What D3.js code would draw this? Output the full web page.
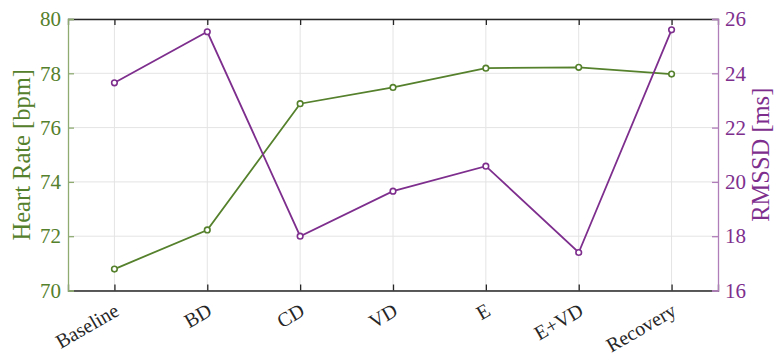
<!DOCTYPE html>
<html>
<head>
<meta charset="utf-8">
<script src="https://cdn.jsdelivr.net/npm/d3@7"></script>
<style>
  body { margin: 0; background: #fff; }
</style>
</head>
<body>
<svg id="chart" width="776" height="356"></svg>
<script>
// Conditions and per-condition means
const conditions = ["Baseline", "BD", "CD", "VD", "E", "E+VD", "Recovery"];
const heartRate = [70.79, 72.23, 76.88, 77.48, 78.19, 78.22, 77.97];
const rmssd = [23.65, 25.53, 18.00, 19.66, 20.58, 17.40, 25.60];
const hrTicks = [70, 72, 74, 76, 78, 80];
const rmssdTicks = [16, 18, 20, 22, 24, 26];

const green = "#55802c";
const purple = "#7e2f8e";
const serif = "'Liberation Serif', 'Times New Roman', serif";

const svg = d3.select("#chart");
const margin = { left: 68, right: 58, top: 19, bottom: 65.5 };
const W = 776, H = 356;
const x0 = margin.left, x1 = W - margin.right;
const y0 = H - margin.bottom, y1 = margin.top;

const x = d3.scaleLinear().domain([0.5, conditions.length + 0.5]).range([x0, x1]);
const yL = d3.scaleLinear().domain([70, 80]).range([y0, y1]);
const yR = d3.scaleLinear().domain([16, 26]).range([y0, y1]);

// grid
const grid = svg.append("g");
grid.selectAll("line.v").data(conditions).enter().append("line")
  .attr("x1", (d, i) => x(i + 1)).attr("x2", (d, i) => x(i + 1))
  .attr("y1", y1).attr("y2", y0)
  .attr("stroke", "#e4e4e4").attr("stroke-width", 1);
grid.selectAll("line.h").data(hrTicks).enter().append("line")
  .attr("x1", x0).attr("x2", x1)
  .attr("y1", d => yL(d)).attr("y2", d => yL(d))
  .attr("stroke", "#e4e4e4").attr("stroke-width", 1);

// axes
const tickLen = 6;
const bottomAxis = d3.axisBottom(x).tickValues(d3.range(1, conditions.length + 1))
  .tickSize(-tickLen).tickFormat("");
const topAxis = d3.axisTop(x).tickValues(d3.range(1, conditions.length + 1))
  .tickSize(-tickLen).tickFormat("");
const leftAxis = d3.axisLeft(yL).tickValues(hrTicks).tickSize(-tickLen).tickPadding(7);
const rightAxis = d3.axisRight(yR).tickValues(rmssdTicks).tickSize(-tickLen).tickPadding(7);

function styleAxis(g, color, lineColor) {
  g.attr("font-family", serif).attr("font-size", 21);
  g.select(".domain").attr("stroke", lineColor).attr("stroke-width", 1.3);
  g.selectAll(".tick line").attr("stroke", lineColor).attr("stroke-width", 1.3);
  g.selectAll(".tick text").attr("fill", color);
}

svg.append("g").attr("transform", `translate(0,${y0})`).call(bottomAxis)
  .call(g => styleAxis(g, "#262626", "#262626"));
svg.append("g").attr("transform", `translate(0,${y1})`).call(topAxis)
  .call(g => styleAxis(g, "#262626", "#262626"));
svg.append("g").attr("transform", `translate(${x0},0)`).call(leftAxis)
  .call(g => styleAxis(g, green, "#8fab72"));
svg.append("g").attr("transform", `translate(${x1},0)`).call(rightAxis)
  .call(g => styleAxis(g, purple, "#b07fba"));

// category labels, rotated
svg.append("g").selectAll("text").data(conditions).enter().append("text")
  .attr("transform", (d, i) => `translate(${x(i + 1) + 6},${y0 + 24}) rotate(-30)`)
  .attr("text-anchor", "end")
  .attr("fill", "#262626")
  .attr("font-family", serif)
  .attr("font-size", 20)
  .text(d => d);

// axis titles
svg.append("text")
  .attr("transform", `translate(30,${(y0 + y1) / 2}) rotate(-90)`)
  .attr("text-anchor", "middle")
  .attr("fill", green)
  .attr("font-family", serif)
  .attr("font-size", 24.5)
  .text("Heart Rate [bpm]");
svg.append("text")
  .attr("transform", `translate(769,${(y0 + y1) / 2}) rotate(-90)`)
  .attr("text-anchor", "middle")
  .attr("fill", purple)
  .attr("font-family", serif)
  .attr("font-size", 24.5)
  .text("RMSSD [ms]");

// series
function drawSeries(values, yScale, color) {
  const line = d3.line().x((d, i) => x(i + 1)).y(d => yScale(d));
  svg.append("path").datum(values)
    .attr("d", line).attr("fill", "none")
    .attr("stroke", color).attr("stroke-width", 1.8);
  svg.append("g").selectAll("circle").data(values).enter().append("circle")
    .attr("cx", (d, i) => x(i + 1)).attr("cy", d => yScale(d))
    .attr("r", 2.8).attr("fill", "#fff")
    .attr("stroke", color).attr("stroke-width", 1.6);
}
drawSeries(heartRate, yL, green);
drawSeries(rmssd, yR, purple);
</script>
</body>
</html>
